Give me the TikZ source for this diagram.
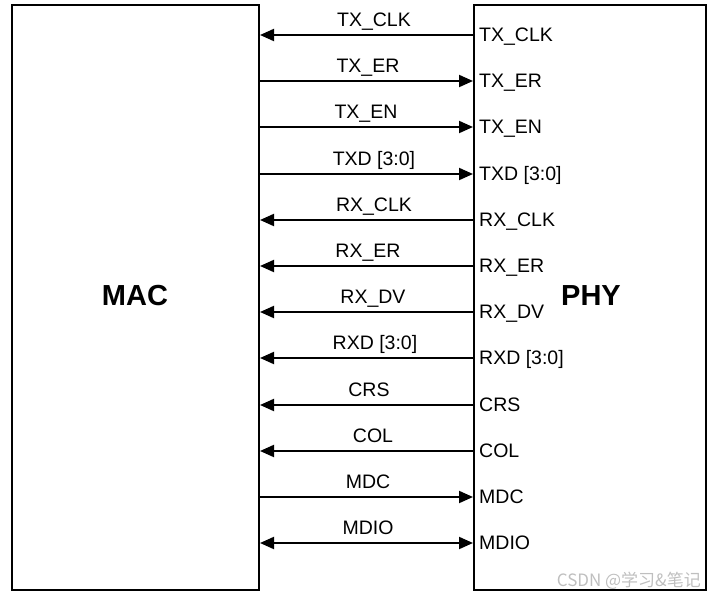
\documentclass[tikz,border=0pt]{standalone}
\usepackage{fontspec}
\setmainfont{Liberation Sans}
\newfontfamily\cjkfont{Noto Sans CJK SC}
\usetikzlibrary{arrows.meta}
\begin{document}
\begin{tikzpicture}[x=1pt, y=-1pt,
  >={Triangle[length=14pt,width=12pt]},
  block/.style={draw, line width=2pt, inner sep=0pt},
  wire/.style={line width=2pt},
  tomac/.style={wire, <-},
  tophy/.style={wire, ->},
  both/.style={wire, <->},
  lbl/.style={font=\fontsize{19.5}{23}\selectfont, inner sep=0pt, anchor=base},
  pin/.style={font=\fontsize{19.5}{23}\selectfont, inner sep=0pt, anchor=base west},
  title/.style={font=\fontsize{29}{34}\selectfont\bfseries, inner sep=0pt},
  wmtext/.style={text=gray!50, font=\cjkfont\fontsize{17}{20}\selectfont, inner sep=0pt, anchor=base east}]
\useasboundingbox (0,0) rectangle (716,600);

% the two blocks
\node[block, minimum width=247pt, minimum height=585pt] (mac) at (135.5,297.5) {};
\node[block, minimum width=232pt, minimum height=585pt] (phy) at (590,297.5) {};
\node[title] (macname) at (135,296) {MAC};
\node[title] (phyname) at (591,296) {PHY};

% MII signals: index / name / label centre / direction
\foreach \i/\name/\cx/\dir in {
  0/TX\_CLK/374/tomac, 1/TX\_ER/368/tophy, 2/TX\_EN/366/tophy,
  3/TXD [3:0]/374/tophy, 4/RX\_CLK/374/tomac, 5/RX\_ER/368/tomac,
  6/RX\_DV/373/tomac, 7/RXD [3:0]/375/tomac, 8/CRS/369/tomac,
  9/COL/373/tomac, 10/MDC/368/tophy, 11/MDIO/368/both} {
  \pgfmathsetmacro{\yy}{round(35+46.2*\i)}
  \coordinate (s\i) at (0,\yy);
  \draw[\dir] (mac.east |- s\i) -- (phy.west |- s\i);
  \node[lbl] (top\i) at (\cx,\yy-9) {\name};
  \node[pin] (pin\i) at (479,\yy+6) {\name};
}

\node[wmtext] (wm) at (701,586) {CSDN @学习\&笔记};
\end{tikzpicture}
\end{document}
